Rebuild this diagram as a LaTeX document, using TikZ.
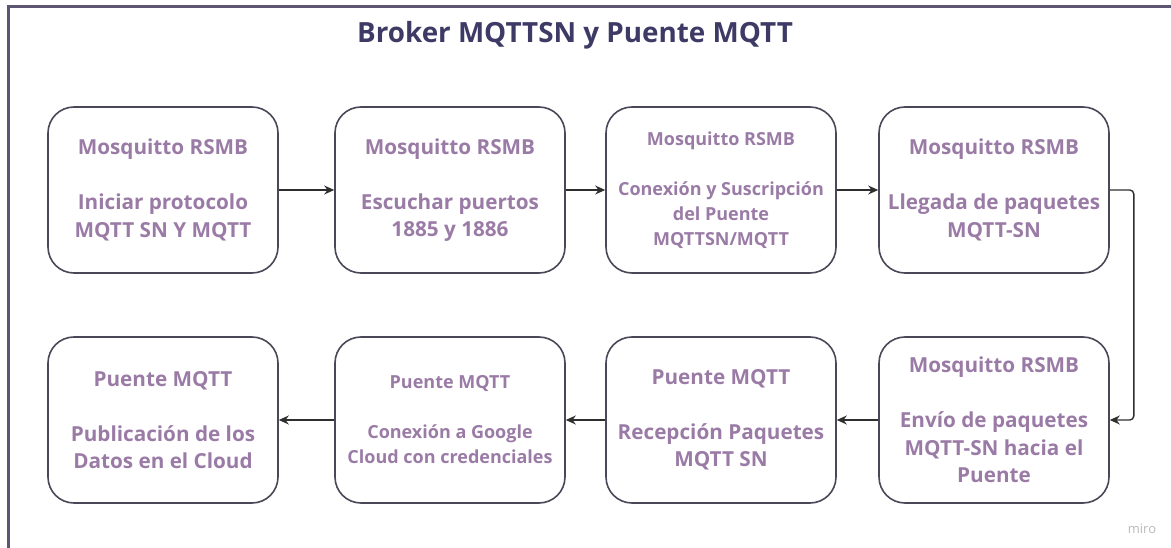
\documentclass[tikz,border=0pt]{standalone}
\usepackage{fontspec}
\setmainfont{Open Sans}
\usetikzlibrary{arrows.meta}
\definecolor{framec}{HTML}{5C5673}
\definecolor{titlec}{HTML}{3D3A66}
\definecolor{txtc}{HTML}{9A7BA6}
\definecolor{edgec}{HTML}{4A4858}
\definecolor{arrc}{HTML}{2E2E2E}
\begin{document}
\begin{tikzpicture}[x=1pt,y=-1pt,
  stepbox/.style={draw=edgec, line width=1.6pt, rounded corners=26pt,
    minimum width=230pt, minimum height=166pt, inner sep=0pt, align=center,
    text=txtc, font=\fontsize{20.7}{27.5}\selectfont\bfseries},
  smallbox/.style={stepbox, font=\fontsize{18}{25}\selectfont\bfseries},
  flow/.style={draw=arrc, line width=1.4pt, -{Stealth[length=10pt,width=9pt]}}]
\useasboundingbox (0,0) rectangle (1171,548);
\draw[framec, line width=3pt] (8,548) -- (8,7) -- (1171,7);
\node[anchor=base, text=titlec, font=\fontsize{27.8}{32}\selectfont\bfseries] (title) at (575,43) {Broker MQTTSN y Puente MQTT};
\node[stepbox] (b1) at (163,190) {Mosquitto RSMB\\ \mbox{}\\ Iniciar protocolo\\ MQTT SN Y MQTT};
\node[stepbox] (b2) at (450,190) {Mosquitto RSMB\\ \mbox{}\\ Escuchar puertos\\ 1885 y 1886};
\node[smallbox] (b3) at (721,190) {Mosquitto RSMB\\ \mbox{}\\ Conexión y Suscripción\\ del Puente\\ MQTTSN/MQTT};
\node[stepbox] (b4) at (994,190) {Mosquitto RSMB\\ \mbox{}\\ Llegada de paquetes\\ MQTT-SN};
\node[stepbox] (b5) at (994,420) {Mosquitto RSMB\\ \mbox{}\\ Envío de paquetes\\ MQTT-SN hacia el\\ Puente};
\node[stepbox] (b6) at (721,420) {Puente MQTT\\ \mbox{}\\ Recepción Paquetes\\ MQTT SN};
\node[smallbox] (b7) at (450,420) {Puente MQTT\\ \mbox{}\\ Conexión a Google\\ Cloud con credenciales};
\node[stepbox] (b8) at (163,420) {Puente MQTT\\ \mbox{}\\ Publicación de los\\ Datos en el Cloud};
\node[text=gray!55, font=\fontsize{13}{15}\selectfont] (miro) at (1142,529) {miro};
\draw[flow] (b1) -- (b2);
\draw[flow] (b2) -- (b3);
\draw[flow] (b3) -- (b4);
\draw[flow, rounded corners=4pt] (b4.east) -- ++(24,0) |- (b5.east);
\draw[flow] (b5) -- (b6);
\draw[flow] (b6) -- (b7);
\draw[flow] (b7) -- (b8);
\end{tikzpicture}
\end{document}
